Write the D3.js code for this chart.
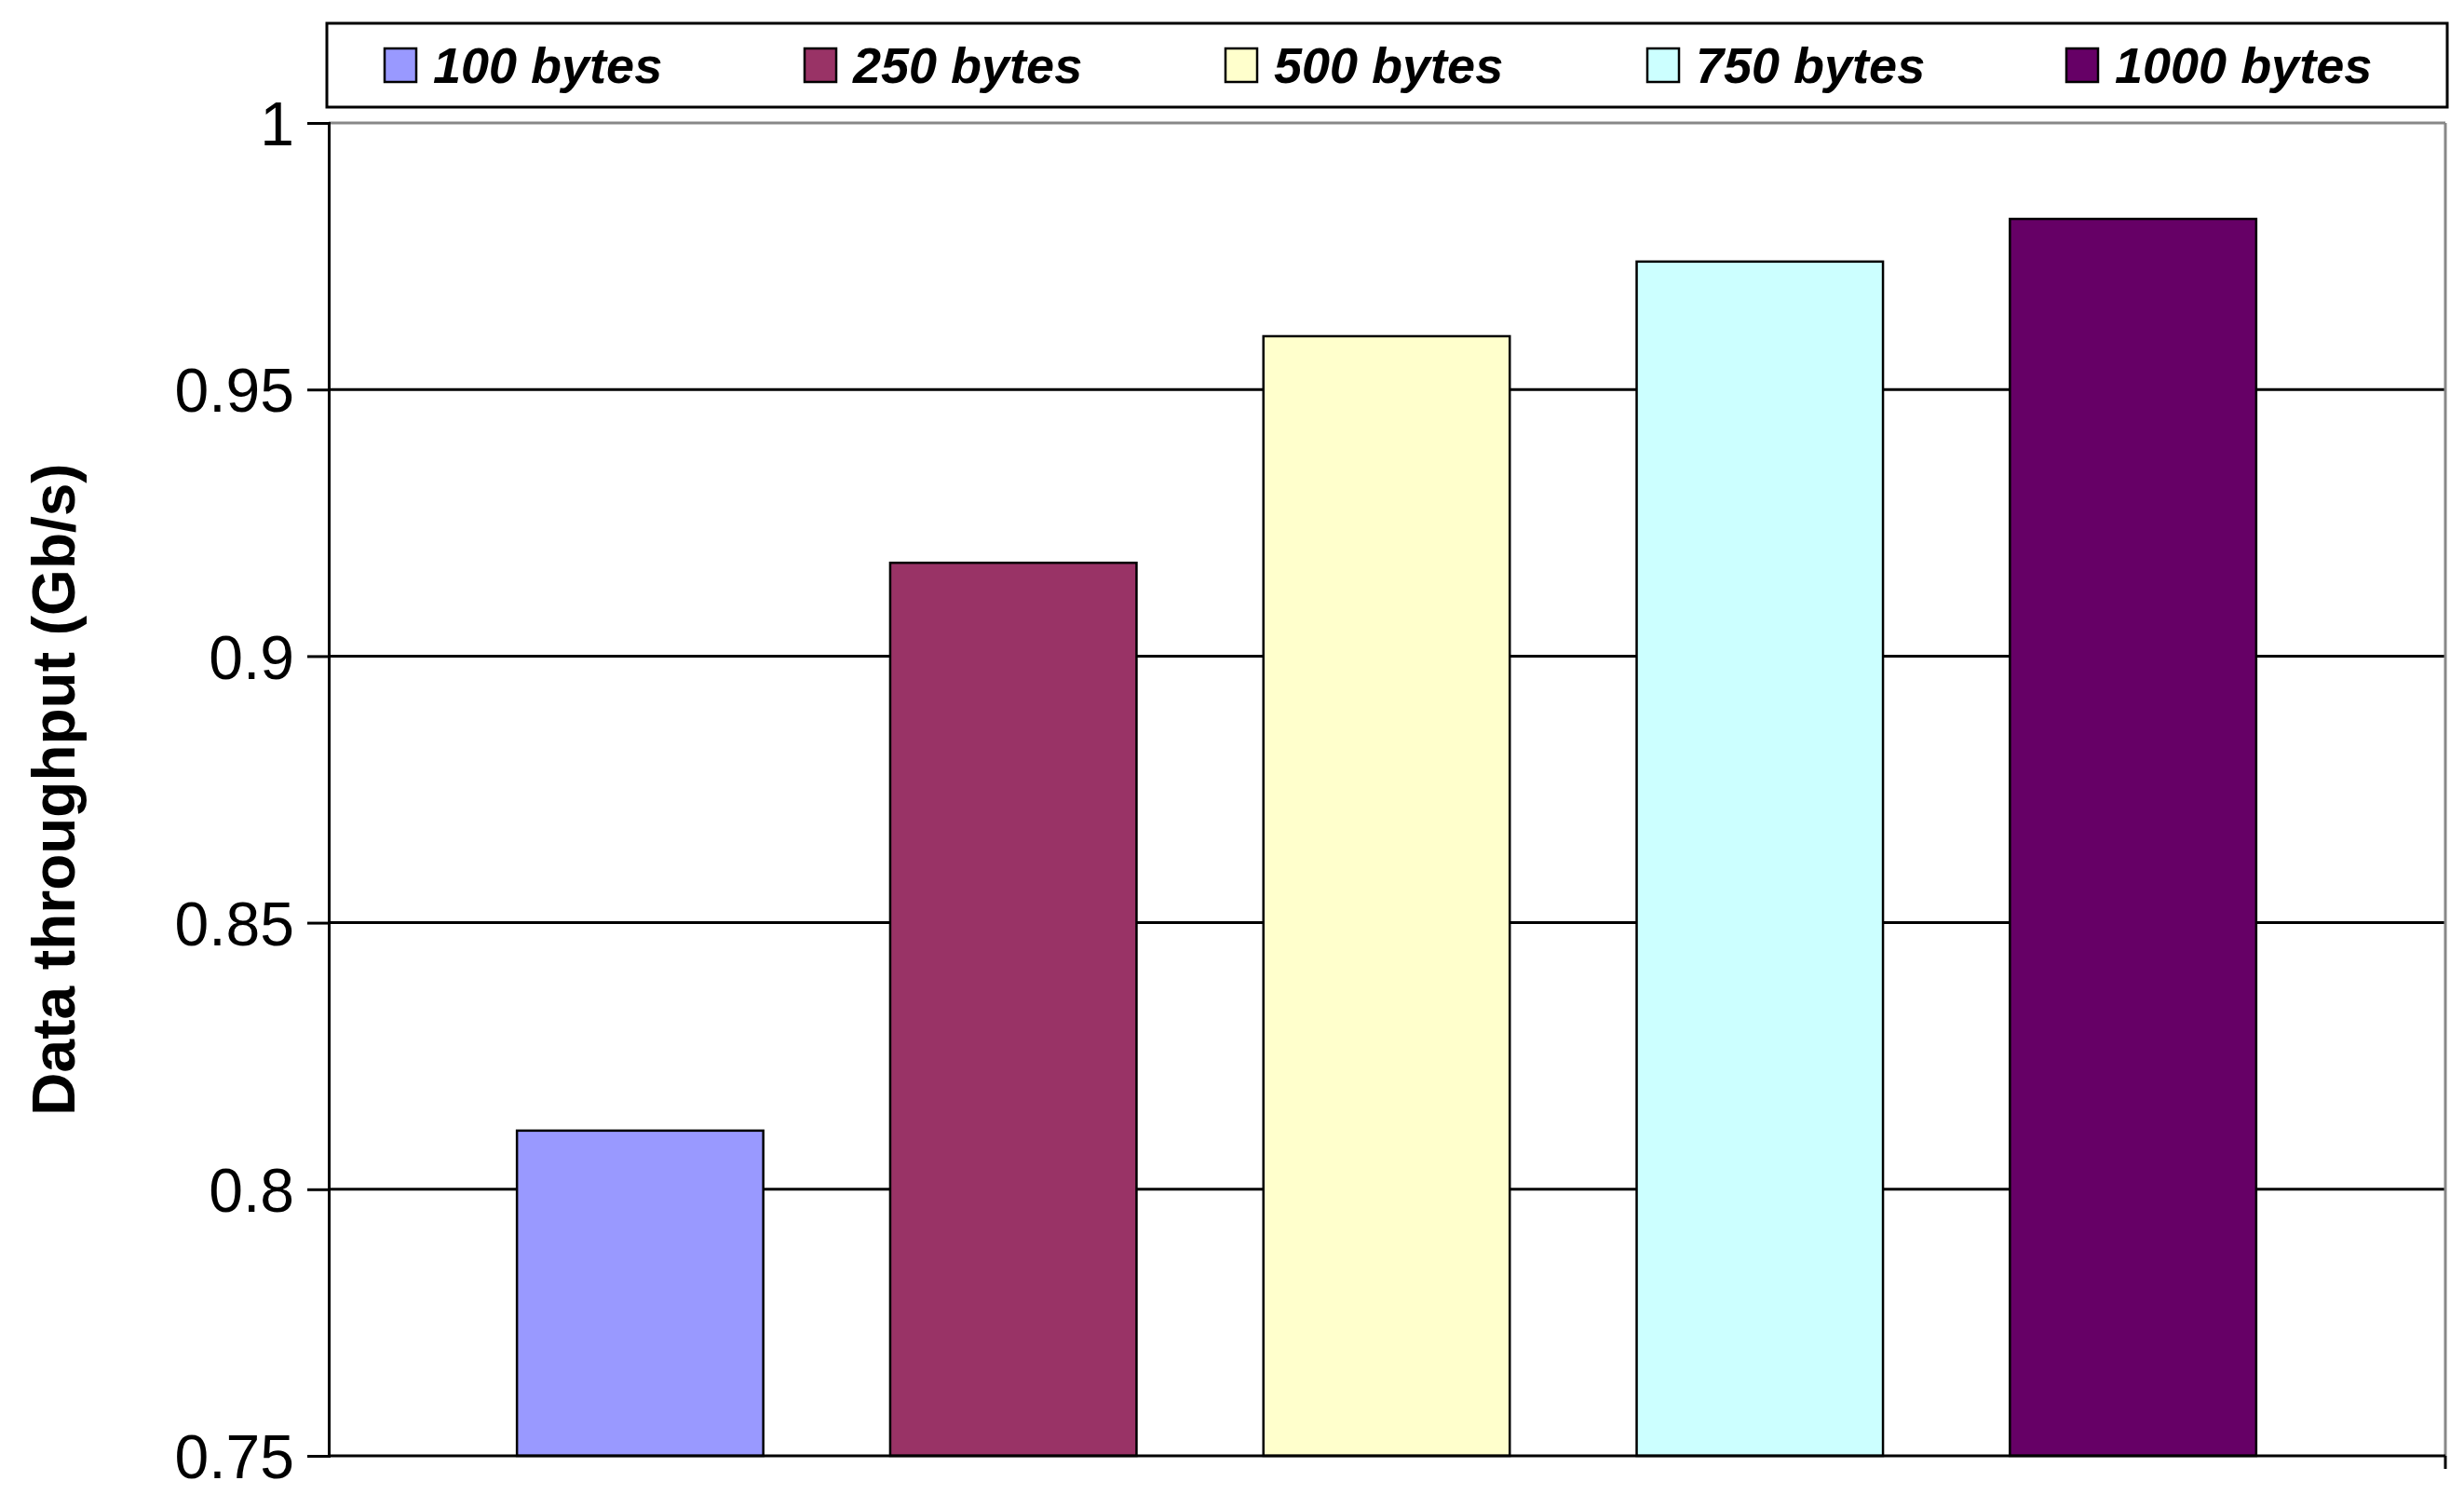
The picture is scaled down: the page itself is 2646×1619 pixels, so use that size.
<!DOCTYPE html>
<html><head><meta charset="utf-8">
<script src="https://cdn.jsdelivr.net/npm/d3@7"></script>
<style>body{margin:0;background:#fff}</style>
</head><body><svg id="c" width="2646" height="1619"></svg>
<script>
const categories = ["100 bytes","250 bytes","500 bytes","750 bytes","1000 bytes"];
const values = [0.811, 0.9175, 0.960, 0.974, 0.982];
const colors = ["#9999ff","#993366","#ffffcc","#ccffff","#660066"];
const yTicks = [0.75,0.8,0.85,0.9,0.95,1];

const svg = d3.select("#c");
const L=353, R=2626, T=132, B=1563;
const y = d3.scaleLinear().domain([0.75,1]).range([B,T]);
const x = d3.scaleBand().domain(categories).range([487,2491]).paddingInner(0.34).paddingOuter(0.17);

// gridlines
svg.append("g").selectAll("line").data(yTicks.filter(t=>t>0.75)).join("line")
  .attr("x1",L).attr("x2",R).attr("y1",d=>y(d)).attr("y2",d=>y(d))
  .attr("stroke",d=>d===1?"#888":"#000").attr("stroke-width",3);
svg.append("line").attr("x1",R).attr("x2",R).attr("y1",T).attr("y2",B).attr("stroke","#888").attr("stroke-width",3);

// bars
svg.append("g").selectAll("rect").data(values).join("rect")
  .attr("x",(d,i)=>x(categories[i])).attr("width",x.bandwidth())
  .attr("y",d=>y(d)).attr("height",d=>B-y(d))
  .attr("fill",(d,i)=>colors[i]).attr("stroke","#000").attr("stroke-width",2.5);

// y axis
const ya = svg.append("g").attr("transform",`translate(${L},0)`)
  .call(d3.axisLeft(y).tickValues(yTicks).tickSize(23).tickPadding(14).tickFormat(d3.format("")));
ya.select(".domain").attr("stroke","#000").attr("stroke-width",3);
ya.selectAll(".tick line").attr("stroke","#000").attr("stroke-width",3);
ya.selectAll("text").attr("font-family","Liberation Sans, Arial").attr("font-size",66).attr("fill","#000").attr("dy","0.36em");

// x axis line
svg.append("line").attr("x1",L).attr("x2",R).attr("y1",B).attr("y2",B).attr("stroke","#000").attr("stroke-width",3);
svg.append("line").attr("x1",R).attr("x2",R).attr("y1",B).attr("y2",B+14).attr("stroke","#000").attr("stroke-width",3);

// y title
svg.append("text").attr("transform",`translate(80,${(392+1303)/2}) rotate(-90)`)
  .attr("text-anchor","middle").attr("font-family","Liberation Sans, Arial").attr("font-weight","bold")
  .attr("font-size",64).text("Data throughput (Gb/s)");

// legend
svg.append("rect").attr("x",351).attr("y",25).attr("width",2277).attr("height",90)
  .attr("fill","#fff").attr("stroke","#000").attr("stroke-width",3);
const lx = [413,864,1316,1769,2219];
const lg = svg.append("g").selectAll("g").data(categories).join("g")
  .attr("transform",(d,i)=>`translate(${lx[i]},70)`);
lg.append("rect").attr("x",0).attr("y",-18).attr("width",34).attr("height",36)
  .attr("fill",(d,i)=>colors[i]).attr("stroke","#000").attr("stroke-width",2.5);
lg.append("text").attr("x",52).attr("dy","0.36em").attr("font-family","Liberation Sans, Arial")
  .attr("font-weight","bold").attr("font-style","italic").attr("font-size",54).text(d=>d);
</script></body></html>
